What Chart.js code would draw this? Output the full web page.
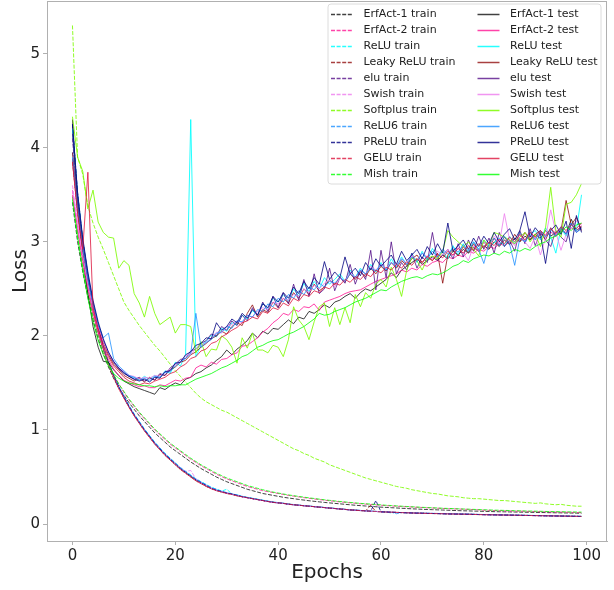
<!DOCTYPE html>
<html><head><meta charset="utf-8">
<script src="https://cdn.jsdelivr.net/npm/chart.js@4.4.1/dist/chart.umd.min.js"></script>
<style>html,body{margin:0;padding:0;background:#fff}canvas{display:block}</style>
</head><body>
<canvas id="c" width="614" height="590"></canvas>
<script>
const epochs = [0,1,2,3,4,5,6,7,8,9,10,11,12,13,14,15,16,17,18,19,20,21,22,23,24,25,26,27,28,29,30,31,32,33,34,35,36,37,38,39,40,41,42,43,44,45,46,47,48,49,50,51,52,53,54,55,56,57,58,59,60,61,62,63,64,65,66,67,68,69,70,71,72,73,74,75,76,77,78,79,80,81,82,83,84,85,86,87,88,89,90,91,92,93,94,95,96,97,98,99];
const xTicks = [0,20,40,60,80,100];
const yTicks = [0,1,2,3,4,5];
const names = ['ErfAct-1','ErfAct-2','ReLU','Leaky ReLU','elu','Swish','Softplus','ReLU6','PReLU','GELU','Mish'];
const colors = ['rgba(0,0,0,0.75)','rgba(255,20,147,0.8)','rgba(0,255,255,0.85)','rgba(139,0,0,0.75)','rgba(75,0,130,0.75)','rgba(238,130,238,0.85)','rgba(124,252,0,0.85)','rgba(30,144,255,0.8)','rgba(0,0,128,0.8)','rgba(220,20,60,0.8)','rgba(0,255,0,0.8)'];

// ---- train losses ----
const erfact1Train = [3.42,3.00,2.68,2.41,2.17,1.97,1.81,1.67,1.55,1.45,1.37,1.29,1.22,1.15,1.09,1.03,0.97,0.92,0.87,0.82,0.78,0.74,0.70,0.66,0.625,0.59,0.56,0.53,0.50,0.475,0.45,0.43,0.41,0.39,0.37,0.355,0.34,0.325,0.315,0.305,0.295,0.285,0.277,0.27,0.262,0.255,0.248,0.242,0.236,0.23,0.225,0.22,0.215,0.21,0.205,0.2,0.196,0.192,0.188,0.184,0.18,0.177,0.174,0.171,0.168,0.165,0.162,0.16,0.157,0.155,0.153,0.151,0.149,0.147,0.145,0.143,0.141,0.14,0.138,0.137,0.135,0.134,0.132,0.131,0.13,0.129,0.128,0.127,0.126,0.125,0.124,0.123,0.122,0.121,0.12,0.119,0.118,0.117,0.116,0.115];
const erfact2Train = [3.55,3.10,2.76,2.47,2.22,2.01,1.85,1.71,1.59,1.49,1.40,1.32,1.25,1.18,1.12,1.06,1.00,0.95,0.90,0.85,0.81,0.77,0.73,0.69,0.655,0.62,0.59,0.56,0.53,0.505,0.48,0.46,0.44,0.42,0.40,0.385,0.37,0.355,0.345,0.335,0.325,0.315,0.305,0.297,0.289,0.281,0.274,0.267,0.26,0.254,0.248,0.242,0.236,0.231,0.226,0.221,0.216,0.212,0.208,0.204,0.2,0.196,0.193,0.19,0.187,0.184,0.181,0.178,0.176,0.173,0.171,0.168,0.166,0.164,0.162,0.16,0.158,0.156,0.154,0.152,0.147,0.146,0.144,0.143,0.141,0.14,0.138,0.137,0.136,0.134,0.133,0.132,0.131,0.129,0.128,0.127,0.126,0.124,0.123,0.122];
const reluTrain = [4.20,3.50,3.00,2.63,2.33,2.09,1.89,1.72,1.58,1.46,1.36,1.26,1.17,1.09,1.01,0.94,0.87,0.81,0.75,0.70,0.65,0.60,0.56,0.52,0.48,0.45,0.42,0.39,0.37,0.35,0.37,0.32,0.31,0.295,0.285,0.275,0.265,0.255,0.245,0.235,0.228,0.222,0.214,0.208,0.202,0.197,0.192,0.187,0.182,0.177,0.172,0.167,0.162,0.157,0.152,0.148,0.145,0.141,0.138,0.135,0.131,0.128,0.118,0.124,0.122,0.12,0.118,0.117,0.115,0.114,0.113,0.112,0.11,0.109,0.108,0.107,0.106,0.105,0.104,0.102,0.101,0.1,0.099,0.098,0.097,0.096,0.095,0.094,0.093,0.092,0.091,0.09,0.089,0.088,0.087,0.086,0.085,0.084,0.083,0.082];
const leakyTrain = [3.85,3.32,2.90,2.56,2.28,2.05,1.86,1.70,1.56,1.44,1.34,1.24,1.15,1.07,0.99,0.92,0.85,0.79,0.73,0.68,0.63,0.58,0.54,0.50,0.46,0.43,0.40,0.375,0.355,0.34,0.325,0.315,0.30,0.29,0.28,0.27,0.26,0.25,0.24,0.232,0.225,0.219,0.212,0.206,0.2,0.195,0.19,0.185,0.18,0.175,0.17,0.165,0.16,0.156,0.151,0.147,0.143,0.14,0.2,0.134,0.13,0.128,0.126,0.124,0.122,0.12,0.118,0.116,0.115,0.113,0.112,0.111,0.11,0.108,0.107,0.106,0.105,0.104,0.103,0.101,0.1,0.099,0.098,0.097,0.096,0.095,0.094,0.093,0.092,0.091,0.09,0.089,0.088,0.087,0.086,0.085,0.084,0.083,0.082,0.081];
const eluTrain = [4.10,3.45,2.98,2.62,2.32,2.08,1.88,1.72,1.58,1.46,1.35,1.25,1.16,1.08,1.00,0.93,0.86,0.80,0.74,0.69,0.64,0.59,0.55,0.51,0.47,0.44,0.41,0.38,0.36,0.345,0.33,0.318,0.305,0.292,0.281,0.27,0.26,0.25,0.241,0.232,0.226,0.22,0.211,0.205,0.2,0.195,0.19,0.185,0.18,0.175,0.17,0.166,0.161,0.156,0.151,0.147,0.144,0.14,0.137,0.134,0.13,0.128,0.126,0.124,0.122,0.12,0.118,0.117,0.115,0.114,0.113,0.112,0.11,0.109,0.108,0.107,0.106,0.105,0.103,0.102,0.1,0.099,0.098,0.097,0.096,0.095,0.094,0.093,0.092,0.091,0.09,0.089,0.088,0.087,0.086,0.085,0.084,0.083,0.082,0.081];
const swishTrain = [3.60,3.22,2.86,2.55,2.28,2.06,1.87,1.71,1.57,1.45,1.35,1.25,1.16,1.08,1.00,0.93,0.86,0.80,0.74,0.69,0.64,0.60,0.56,0.57,0.48,0.44,0.41,0.38,0.36,0.345,0.33,0.32,0.305,0.29,0.28,0.27,0.26,0.25,0.24,0.23,0.225,0.22,0.21,0.205,0.2,0.195,0.19,0.185,0.18,0.175,0.17,0.165,0.16,0.155,0.15,0.147,0.144,0.14,0.137,0.134,0.13,0.128,0.126,0.124,0.122,0.12,0.118,0.117,0.115,0.114,0.113,0.112,0.11,0.109,0.108,0.107,0.106,0.105,0.103,0.102,0.1,0.099,0.098,0.097,0.096,0.095,0.094,0.093,0.092,0.091,0.09,0.089,0.088,0.087,0.086,0.085,0.084,0.083,0.082,0.081];
const softplusTrain = [5.30,3.90,3.72,3.38,3.20,3.05,2.92,2.78,2.64,2.50,2.36,2.27,2.19,2.11,2.04,1.97,1.90,1.84,1.77,1.70,1.63,1.57,1.51,1.45,1.39,1.34,1.30,1.27,1.24,1.21,1.19,1.16,1.13,1.10,1.07,1.04,1.01,0.98,0.95,0.92,0.89,0.86,0.83,0.80,0.78,0.75,0.73,0.70,0.68,0.66,0.63,0.61,0.59,0.57,0.55,0.53,0.51,0.49,0.475,0.46,0.445,0.43,0.415,0.40,0.39,0.38,0.365,0.355,0.345,0.335,0.325,0.32,0.31,0.30,0.295,0.29,0.28,0.275,0.27,0.27,0.265,0.26,0.255,0.25,0.25,0.245,0.24,0.235,0.23,0.225,0.22,0.225,0.215,0.21,0.205,0.21,0.20,0.195,0.19,0.19];
const relu6Train = [3.95,3.38,2.94,2.59,2.30,2.07,1.88,1.72,1.58,1.46,1.36,1.26,1.17,1.09,1.01,0.94,0.87,0.81,0.75,0.70,0.65,0.60,0.56,0.52,0.48,0.45,0.42,0.39,0.37,0.35,0.335,0.32,0.31,0.295,0.284,0.274,0.264,0.254,0.244,0.235,0.228,0.221,0.213,0.207,0.201,0.196,0.191,0.186,0.181,0.176,0.171,0.166,0.161,0.156,0.151,0.148,0.145,0.141,0.138,0.135,0.131,0.129,0.127,0.11,0.123,0.121,0.119,0.118,0.116,0.115,0.114,0.113,0.111,0.11,0.109,0.108,0.107,0.106,0.104,0.103,0.101,0.1,0.099,0.098,0.097,0.096,0.095,0.094,0.093,0.092,0.091,0.09,0.089,0.088,0.087,0.086,0.085,0.084,0.083,0.082];
const preluTrain = [4.25,3.52,3.02,2.65,2.34,2.10,1.89,1.72,1.58,1.46,1.35,1.25,1.16,1.08,1.00,0.93,0.86,0.80,0.74,0.69,0.64,0.59,0.55,0.51,0.47,0.44,0.41,0.38,0.36,0.345,0.33,0.32,0.305,0.29,0.28,0.27,0.26,0.25,0.24,0.23,0.225,0.22,0.21,0.205,0.2,0.195,0.19,0.185,0.18,0.175,0.17,0.165,0.16,0.155,0.15,0.147,0.144,0.14,0.137,0.25,0.13,0.128,0.126,0.124,0.122,0.12,0.118,0.116,0.115,0.113,0.112,0.111,0.11,0.108,0.107,0.106,0.105,0.104,0.102,0.101,0.1,0.099,0.098,0.097,0.096,0.095,0.094,0.093,0.092,0.091,0.09,0.089,0.088,0.087,0.086,0.085,0.084,0.083,0.082,0.081];
const geluTrain = [3.88,3.30,2.88,2.55,2.27,2.05,1.86,1.70,1.56,1.44,1.34,1.24,1.15,1.07,0.99,0.92,0.85,0.79,0.73,0.68,0.63,0.58,0.54,0.50,0.46,0.43,0.40,0.375,0.355,0.34,0.325,0.315,0.30,0.29,0.28,0.27,0.26,0.25,0.24,0.232,0.226,0.22,0.212,0.206,0.2,0.195,0.19,0.185,0.18,0.175,0.17,0.165,0.16,0.156,0.151,0.147,0.143,0.14,0.137,0.134,0.13,0.128,0.126,0.124,0.122,0.12,0.118,0.116,0.115,0.113,0.112,0.111,0.11,0.108,0.107,0.106,0.105,0.104,0.102,0.101,0.1,0.099,0.098,0.097,0.096,0.095,0.094,0.093,0.092,0.091,0.09,0.089,0.088,0.087,0.086,0.085,0.084,0.083,0.082,0.081];
const mishTrain = [3.48,3.06,2.73,2.45,2.21,2.01,1.85,1.71,1.59,1.49,1.41,1.33,1.26,1.19,1.13,1.07,1.01,0.96,0.91,0.86,0.82,0.78,0.74,0.70,0.665,0.63,0.60,0.57,0.54,0.515,0.49,0.47,0.45,0.43,0.41,0.395,0.38,0.365,0.352,0.34,0.33,0.32,0.31,0.302,0.294,0.286,0.279,0.272,0.265,0.258,0.252,0.246,0.24,0.235,0.23,0.225,0.22,0.216,0.212,0.208,0.204,0.2,0.197,0.193,0.19,0.187,0.184,0.181,0.178,0.176,0.173,0.171,0.168,0.166,0.164,0.162,0.16,0.158,0.156,0.154,0.152,0.15,0.148,0.147,0.145,0.144,0.142,0.141,0.139,0.138,0.137,0.136,0.134,0.133,0.132,0.131,0.13,0.129,0.128,0.127];

// ---- test losses ----
const erfact1Test = [4.30,3.40,2.85,2.45,2.10,1.88,1.73,1.72,1.64,1.58,1.52,1.49,1.46,1.44,1.42,1.40,1.38,1.45,1.43,1.47,1.50,1.48,1.54,1.56,1.60,1.62,1.66,1.69,1.74,1.78,1.85,1.80,1.86,1.90,1.95,2.03,1.98,2.05,2.02,2.08,2.07,2.12,2.17,2.13,2.20,2.18,2.26,2.24,2.28,2.33,2.30,2.36,2.38,2.42,2.45,2.40,2.46,2.50,2.48,2.52,2.56,2.60,2.67,2.62,2.70,2.74,2.78,2.82,2.76,2.80,2.84,2.80,2.86,2.82,2.90,2.86,2.92,2.88,2.94,2.90,2.96,2.92,3.00,2.95,3.02,2.97,3.04,3.00,3.06,3.02,3.08,3.04,3.12,3.06,3.10,3.14,3.08,3.24,3.12,3.16];
const erfact2Test = [3.50,3.15,2.80,2.52,2.25,2.04,1.87,1.75,1.65,1.58,1.53,1.50,1.48,1.46,1.47,1.45,1.45,1.48,1.47,1.50,1.53,1.52,1.55,1.56,1.66,1.69,1.67,1.72,1.70,1.75,1.76,1.80,1.82,1.89,1.90,1.94,1.98,2.04,2.08,2.14,2.18,2.24,2.22,2.28,2.26,2.31,2.30,2.34,2.27,2.36,2.38,2.40,2.42,2.45,2.47,2.48,2.49,2.52,2.55,2.58,2.60,2.62,2.64,2.66,2.70,2.68,2.72,2.70,2.76,2.74,2.78,2.80,2.78,2.84,2.82,2.86,2.84,2.90,2.88,2.92,2.90,2.95,2.93,2.98,2.96,3.00,2.98,3.03,3.01,3.06,3.04,3.08,3.06,3.10,3.08,3.12,3.10,3.15,3.12,3.17];
const reluTest = [4.20,3.50,3.02,2.66,2.36,2.13,1.95,1.82,1.73,1.66,1.61,1.57,1.56,1.53,1.57,1.54,1.58,1.56,1.63,1.60,1.72,1.68,1.80,4.30,1.78,1.90,1.94,2.01,1.99,2.08,2.05,2.14,2.12,2.22,2.18,2.27,2.22,2.35,2.28,2.40,2.36,2.44,2.37,2.50,2.42,2.56,2.47,2.58,2.50,2.62,2.55,2.60,2.66,2.58,2.70,2.62,2.72,2.65,2.76,2.68,2.78,2.70,2.82,2.73,2.84,2.76,2.88,2.78,2.90,2.80,2.93,2.84,2.90,2.82,2.96,2.86,2.98,2.88,3.00,2.92,3.02,2.94,2.99,3.04,2.95,3.06,2.98,3.10,3.00,3.08,3.12,3.02,3.15,3.05,2.88,3.14,3.06,3.18,3.12,3.50];
const leakyTest = [3.95,3.38,2.95,2.60,2.32,2.10,1.93,1.80,1.70,1.64,1.58,1.55,1.52,1.55,1.51,1.56,1.53,1.59,1.58,1.64,1.67,1.72,1.74,1.80,1.83,1.88,1.92,1.97,2.00,2.05,2.02,2.10,2.14,2.11,2.24,2.33,2.20,2.28,2.25,2.36,2.30,2.40,2.35,2.46,2.40,2.50,2.44,2.55,2.48,2.52,2.60,2.54,2.63,2.57,2.66,2.60,2.68,2.63,2.72,2.66,2.74,2.69,2.78,2.72,2.80,2.75,2.82,2.86,2.78,2.84,2.80,2.88,2.56,2.86,2.92,2.85,2.95,2.88,2.98,2.90,3.00,2.93,3.04,2.96,3.05,2.98,3.08,3.00,3.10,3.03,3.08,3.12,3.02,3.15,3.06,3.12,3.44,3.18,3.26,3.12];
const eluTest = [4.15,3.48,3.00,2.64,2.35,2.12,1.95,1.82,1.72,1.65,1.60,1.57,1.54,1.56,1.52,1.55,1.53,1.60,1.58,1.66,1.70,1.75,1.76,1.84,1.86,1.92,1.95,2.02,2.00,2.10,2.06,2.16,2.11,2.22,2.16,2.30,2.22,2.36,2.26,2.42,2.30,2.46,2.34,2.55,2.38,2.60,2.42,2.66,2.45,2.50,2.72,2.48,2.62,2.56,2.76,2.55,2.70,2.60,2.91,2.49,2.91,2.62,3.00,2.66,2.78,2.70,2.88,2.72,2.84,2.78,3.10,2.80,2.86,2.92,2.82,2.98,2.84,3.02,2.90,3.06,2.92,3.04,2.88,3.10,2.95,3.02,2.90,3.12,2.98,3.14,2.96,3.10,3.02,2.95,3.12,3.05,3.00,3.20,3.10,3.15];
const swishTest = [3.55,3.20,2.85,2.55,2.30,2.10,1.94,1.82,1.73,1.66,1.62,1.58,1.57,1.54,1.56,1.55,1.58,1.57,1.62,1.64,1.70,1.72,1.79,1.81,1.86,1.90,1.93,1.98,2.04,2.03,2.10,2.12,2.16,2.14,2.22,2.20,2.26,2.30,2.28,2.36,2.34,2.40,2.38,2.44,2.42,2.50,2.46,2.54,2.50,2.56,2.60,2.52,2.62,2.58,2.68,2.62,2.70,2.66,2.74,2.70,2.76,2.72,2.78,2.75,2.82,2.77,2.86,2.80,2.88,2.84,2.82,2.90,2.86,2.92,2.85,2.94,2.88,2.80,2.96,2.90,3.00,2.94,3.06,2.98,3.30,3.02,2.96,3.08,3.00,2.93,3.06,2.86,3.04,3.34,3.10,2.91,3.08,3.14,3.22,3.18];
const softplusTest = [4.33,3.90,3.75,3.35,3.55,3.21,3.10,3.05,3.04,2.72,2.80,2.75,2.45,2.35,2.20,2.42,2.24,2.12,2.16,2.20,2.03,2.12,2.12,2.10,1.82,1.94,1.78,1.86,1.85,2.00,1.96,1.88,1.71,1.98,1.87,2.03,1.85,1.85,1.82,1.90,1.88,1.78,1.96,2.31,2.17,2.10,1.96,2.15,2.31,2.35,2.10,2.30,2.12,2.30,2.14,2.44,2.31,2.46,2.40,2.55,2.60,2.52,2.73,2.60,2.42,2.70,2.83,2.80,2.70,2.82,2.85,2.82,2.90,3.12,3.05,3.00,2.95,3.00,2.92,2.85,3.02,2.95,3.10,3.08,3.05,3.02,2.98,3.05,3.10,3.00,3.08,2.95,3.15,3.58,3.12,3.05,3.40,3.42,3.50,3.62];
const relu6Test = [3.90,3.36,2.94,2.60,2.33,2.12,1.98,2.03,1.76,1.68,1.63,1.58,1.56,1.53,1.55,1.52,1.57,1.56,1.61,1.62,1.68,1.73,1.76,1.81,2.24,1.88,1.93,1.96,2.03,2.04,2.10,2.08,2.16,2.15,2.22,2.20,2.28,2.26,2.34,2.31,2.40,2.36,2.44,2.40,2.48,2.44,2.52,2.49,2.56,2.52,2.58,2.56,2.62,2.58,2.66,2.62,2.70,2.66,2.72,2.69,2.76,2.70,2.78,2.74,2.82,2.76,2.84,2.79,2.88,2.82,2.90,2.84,2.92,2.87,2.94,2.89,2.97,2.90,3.00,2.92,2.77,2.98,3.04,2.96,3.06,2.98,2.75,3.04,3.00,3.10,3.02,3.12,3.05,3.14,3.06,3.16,3.08,3.20,3.10,3.14];
const preluTest = [4.25,3.52,3.04,2.68,2.38,2.15,1.97,1.83,1.73,1.66,1.61,1.57,1.54,1.52,1.54,1.51,1.56,1.55,1.62,1.63,1.71,1.72,1.80,1.83,1.90,1.92,1.98,1.97,2.14,2.06,2.10,2.18,2.14,2.24,2.19,2.28,2.22,2.34,2.30,2.42,2.36,2.46,2.40,2.52,2.45,2.58,2.50,2.62,2.55,2.79,2.60,2.68,2.62,2.84,2.66,2.72,2.64,2.78,2.70,2.82,2.74,2.80,2.86,2.76,2.90,2.80,2.86,2.92,2.82,2.95,2.86,2.98,2.88,3.20,2.90,2.96,3.02,2.92,3.04,2.95,3.06,2.98,3.10,3.00,3.08,3.14,3.02,3.12,3.32,3.05,3.15,3.08,2.77,3.12,3.18,3.08,3.22,2.93,3.28,3.10];
const geluTest = [3.85,3.30,2.92,3.74,2.30,2.08,1.90,1.78,1.68,1.62,1.56,1.52,1.50,1.48,1.50,1.49,1.52,1.54,1.56,1.60,1.62,1.67,1.70,1.76,1.78,1.84,1.86,1.92,1.94,1.99,2.02,2.06,2.09,2.14,2.16,2.20,2.18,2.26,2.24,2.30,2.28,2.35,2.32,2.40,2.37,2.44,2.42,2.48,2.46,2.52,2.50,2.56,2.54,2.60,2.57,2.63,2.60,2.66,2.63,2.70,2.67,2.73,2.70,2.76,2.72,2.79,2.75,2.82,2.78,2.85,2.80,2.87,2.83,2.90,2.86,2.93,2.88,2.96,2.91,2.98,2.94,3.00,2.96,3.03,2.98,3.05,3.00,3.08,3.02,3.10,3.05,3.12,3.07,3.14,3.09,3.16,3.12,3.18,3.14,3.20];
const mishTest = [3.45,3.05,2.70,2.40,2.15,1.95,1.80,1.68,1.60,1.55,1.52,1.50,1.49,1.48,1.47,1.47,1.46,1.47,1.46,1.47,1.47,1.48,1.48,1.51,1.54,1.56,1.58,1.60,1.63,1.66,1.68,1.71,1.74,1.78,1.80,1.84,1.88,1.90,1.93,1.95,1.96,1.99,2.02,2.04,2.07,2.10,2.14,2.18,2.24,2.22,2.23,2.26,2.28,2.30,2.33,2.36,2.38,2.40,2.43,2.46,2.49,2.48,2.52,2.55,2.58,2.60,2.62,2.63,2.61,2.64,2.66,2.65,2.67,2.70,2.74,2.76,2.80,2.78,2.82,2.84,2.86,2.85,2.88,2.86,2.90,2.88,2.92,2.90,2.93,2.91,2.95,2.98,3.00,3.04,3.06,3.10,3.16,3.12,3.18,3.20];

const trainSeries = [erfact1Train,erfact2Train,reluTrain,leakyTrain,eluTrain,swishTrain,softplusTrain,relu6Train,preluTrain,geluTrain,mishTrain];
const testSeries = [erfact1Test,erfact2Test,reluTest,leakyTest,eluTest,swishTest,softplusTest,relu6Test,preluTest,geluTest,mishTest];

const TRAIN_DASH = [4, 1.6];
const plotOrder = [];
names.forEach((n, i) => plotOrder.push({label: n + ' train', data: trainSeries[i], color: colors[i], dash: TRAIN_DASH}));
names.forEach((n, i) => plotOrder.push({label: n + ' test', data: testSeries[i], color: colors[i], dash: []}));

// Chart.js draws index 0 last (on top); matplotlib draws last-plotted on top
const datasets = plotOrder.slice().reverse().map(s => ({
  label: s.label,
  data: s.data.map((v, i) => ({x: epochs[i], y: v})),
  borderColor: s.color,
  backgroundColor: s.color,
  borderWidth: 1,
  borderDash: s.dash,
  pointRadius: 0,
  fill: false,
  tension: 0
}));

const FONT = 'DejaVu Sans';
const TXT = '#222';
const SPINE = '#b0b0b0';

const framePlugin = {
  id: 'frame',
  afterDatasetsDraw(chart) {
    const {ctx, chartArea: a} = chart;
    ctx.save();
    ctx.strokeStyle = SPINE;
    ctx.lineWidth = 1;
    ctx.strokeRect(Math.round(a.left) + 0.5, Math.round(a.top) + 0.5, Math.round(a.right - a.left) - 1, Math.round(a.bottom - a.top));
    ctx.restore();
  }
};

const legendPlugin = {
  id: 'mplLegend',
  afterDraw(chart) {
    const {ctx, chartArea: a} = chart;
    const w = 273, h = 180;
    const x0 = a.right - w - 6, y0 = a.top + 3;
    ctx.save();
    ctx.beginPath();
    const r = 3;
    ctx.moveTo(x0 + r, y0);
    ctx.lineTo(x0 + w - r, y0); ctx.quadraticCurveTo(x0 + w, y0, x0 + w, y0 + r);
    ctx.lineTo(x0 + w, y0 + h - r); ctx.quadraticCurveTo(x0 + w, y0 + h, x0 + w - r, y0 + h);
    ctx.lineTo(x0 + r, y0 + h); ctx.quadraticCurveTo(x0, y0 + h, x0, y0 + h - r);
    ctx.lineTo(x0, y0 + r); ctx.quadraticCurveTo(x0, y0, x0 + r, y0);
    ctx.closePath();
    ctx.fillStyle = 'rgba(255,255,255,0.8)';
    ctx.fill();
    ctx.strokeStyle = '#dcdcdc';
    ctx.lineWidth = 1;
    ctx.stroke();
    ctx.font = '11px "' + FONT + '"';
    ctx.textBaseline = 'middle';
    ctx.textAlign = 'left';
    plotOrder.forEach((s, k) => {
      const col = k < 11 ? 0 : 1;
      const row = k % 11;
      const hx = x0 + 3 + col * 146.5;
      const y = y0 + 10 + row * 16;
      ctx.strokeStyle = s.color;
      ctx.lineWidth = 1.5;
      ctx.setLineDash(s.dash);
      ctx.beginPath();
      ctx.moveTo(hx, y + 0.5);
      ctx.lineTo(hx + 22, y + 0.5);
      ctx.stroke();
      ctx.setLineDash([]);
      ctx.fillStyle = TXT;
      ctx.fillText(s.label, hx + 32.5, y);
    });
    ctx.restore();
  }
};

new Chart(document.getElementById('c'), {
  type: 'line',
  data: {datasets},
  plugins: [framePlugin, legendPlugin],
  options: {
    responsive: false,
    animation: false,
    devicePixelRatio: 1,
    layout: {padding: {left: 0, right: 7, top: 1, bottom: 0}},
    plugins: {legend: {display: false}, tooltip: {enabled: false}},
    scales: {
      x: {
        type: 'linear', min: -4.95, max: 103.95,
        afterBuildTicks: s => { s.ticks = xTicks.map(v => ({value: v})); },
        afterFit: s => { s.height = 49; s.paddingLeft = 0; s.paddingRight = 0; },
        ticks: {font: {family: FONT, size: 15}, color: TXT, padding: 2, maxRotation: 0, autoSkip: false},
        grid: {drawOnChartArea: false, drawTicks: true, tickLength: 4, color: SPINE},
        border: {display: true, color: SPINE},
        title: {display: true, text: 'Epochs', font: {family: FONT, size: 20}, color: TXT, padding: {top: 0, bottom: 5}}
      },
      y: {
        type: 'linear', min: -0.18, max: 5.56,
        afterBuildTicks: s => { s.ticks = yTicks.map(v => ({value: v})); },
        afterFit: s => { s.width = 47; s.paddingTop = 0; s.paddingBottom = 0; },
        ticks: {font: {family: FONT, size: 15}, color: TXT, padding: 3},
        grid: {drawOnChartArea: false, drawTicks: true, tickLength: 4, color: SPINE},
        border: {display: true, color: SPINE},
        title: {display: true, text: 'Loss', font: {family: FONT, size: 20}, color: TXT, padding: {top: 9, bottom: 0}}
      }
    }
  }
});
</script>
</body></html>
